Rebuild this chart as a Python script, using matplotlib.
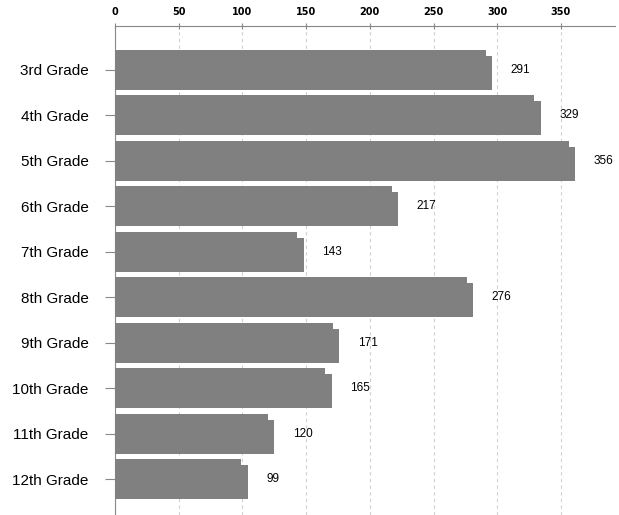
import numpy as np
import matplotlib.pyplot as plt
from matplotlib.patches import Rectangle

grades = ['3rd Grade', '4th Grade', '5th Grade', '6th Grade', '7th Grade',
          '8th Grade', '9th Grade', '10th Grade', '11th Grade', '12th Grade']
counts = [291, 329, 356, 217, 143, 276, 171, 165, 120, 99]
xticks = [0, 50, 100, 150, 200, 250, 300, 350]

fig = plt.figure(figsize=(6.19, 5.15), dpi=100)
ax = fig.add_axes([115 / 619, 0.0, 500 / 619, 1 - 26 / 515])

ypos = np.arange(len(grades))
bar_h = 0.88
# px -> data units for the little 3D step on the bar end
dx = 6.5 / 1.274
dy = 6.0 / 45.6

for y, v in zip(ypos, counts):
    top = y - bar_h / 2
    # front face
    ax.add_patch(Rectangle((0, top), v, bar_h, facecolor='#808080',
                           edgecolor='none', zorder=3))
    # depth on the right side, starts a few px below the top
    ax.add_patch(Rectangle((0, top + dy), v + dx, bar_h - dy,
                           facecolor='#808080', edgecolor='none', zorder=3))
    ax.annotate(str(v), (v, y), xytext=(18, 0),
                textcoords='offset points', ha='left', va='center',
                fontsize=8.5, family=['Liberation Sans', 'DejaVu Sans'],
                zorder=4)

ax.set_xlim(0, 392.4)
ax.set_ylim(9.79, -0.965)

ax.xaxis.tick_top()
ax.set_xticks(xticks)
ax.set_xticklabels([str(t) for t in xticks], fontsize=7, fontweight='bold',
                   family=['Liberation Sans Narrow', 'DejaVu Sans'])
ax.tick_params(axis='x', direction='inout', length=5, width=0.8,
               color='#888888', pad=4)

ax.set_yticks(ypos)
ax.set_yticklabels(grades, fontsize=11,
                   family=['Liberation Sans', 'DejaVu Sans'])
ax.tick_params(axis='y', direction='out', length=7, width=0.8,
               color='#888888', pad=12)

ax.grid(axis='x', linestyle=(0, (3, 3)), color='#d0d0d0', linewidth=0.8,
        zorder=0)
ax.set_axisbelow(True)

for side in ['right', 'bottom']:
    ax.spines[side].set_visible(False)
for side in ['top', 'left']:
    ax.spines[side].set_color('#888888')
    ax.spines[side].set_linewidth(0.8)

fig.savefig('out.png', dpi=100)
